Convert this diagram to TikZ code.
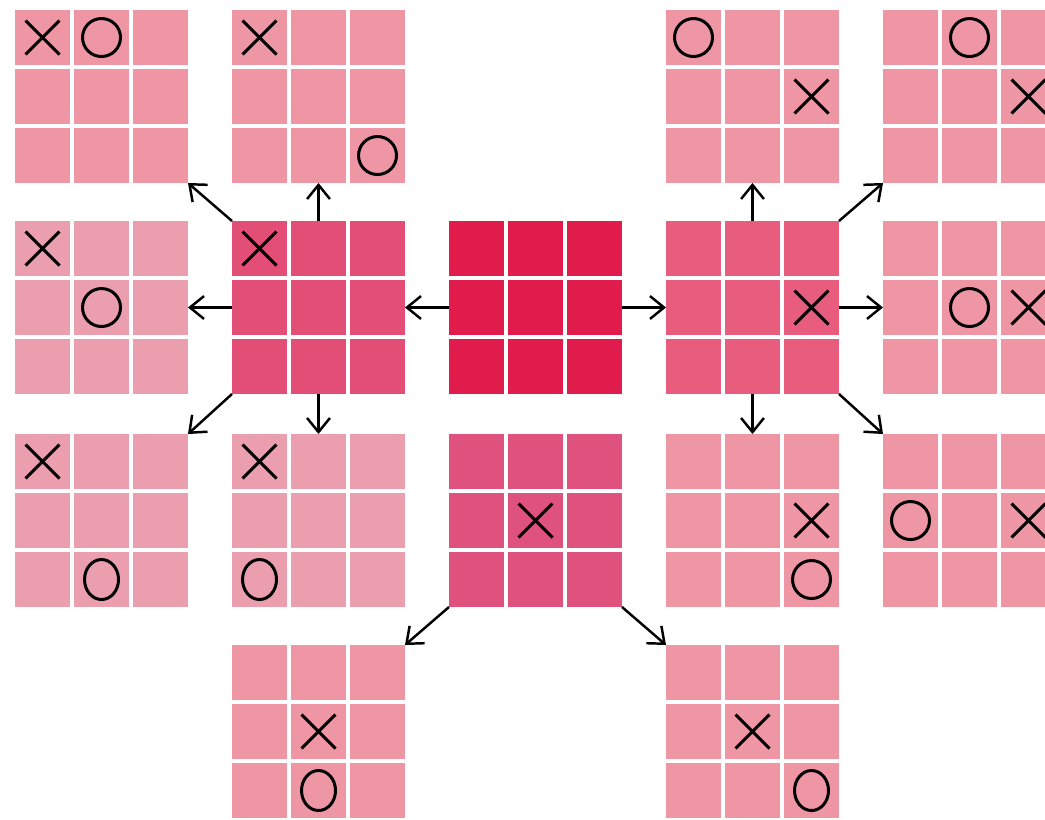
\documentclass[tikz,border=0pt]{standalone}
\usepackage{tikz}
\usetikzlibrary{arrows.meta, calc, shapes.misc, shapes.geometric}
\definecolor{tttRoot}{RGB}{224,28,76}
\definecolor{tttDarkL}{RGB}{226,78,118}
\definecolor{tttDarkR}{RGB}{232,92,126}
\definecolor{tttDarkC}{RGB}{224,82,126}
\definecolor{tttLight}{RGB}{238,150,164}
\definecolor{tttLightB}{RGB}{234,158,174}

\begin{document}
\begin{tikzpicture}[x=0.02cm,y=-0.02cm,
  board/.style={rectangle,minimum size=3.46cm,inner sep=0pt,outer sep=0pt},
  gap/.style={draw=white,line width=0.08cm},
  xmark/.style={cross out,draw=black,line width=1.7pt,minimum size=6.2mm,
                inner sep=0pt},
  omark/.style={circle,draw=black,line width=1.7pt,minimum size=7.6mm,
                inner sep=0pt},
  otall/.style={ellipse,draw=black,line width=1.7pt,minimum width=6.8mm,
                minimum height=8mm,inner sep=0pt},
  arr/.style={-{Straight Barb[length=8pt,width=13pt]},line width=1.4pt,
              draw=black}]

\path[use as bounding box,fill=white] (0,0) rectangle (1045,819);
\clip (0,0) rectangle (1045,819);

% Boards (rows of the game tree)
\foreach \bd/\x/\y/\clr in {%
  b11/101.5/96.5/tttLight, b12/318.5/96.5/tttLight,
  b14/752.5/96.5/tttLight, b15/969.5/96.5/tttLight,
  b21/101.5/307.5/tttLightB, b22/318.5/307.5/tttDarkL,
  b23/535.5/307.5/tttRoot, b24/752.5/307.5/tttDarkR,
  b25/969.5/307.5/tttLight,
  b31/101.5/520.5/tttLightB, b32/318.5/520.5/tttLightB,
  b33/535.5/520.5/tttDarkC, b34/752.5/520.5/tttLight,
  b35/969.5/520.5/tttLight,
  b42/318.5/731.5/tttLight, b44/752.5/731.5/tttLight}
   \node[board,fill=\clr] (\bd) at (\x,\y) {};

% White gaps between the cells
\foreach \bd in {b11,b12,b14,b15,b21,b22,b23,b24,b25,b31,b32,b33,b34,b35,b42,b44}
  \foreach \d in {57,116} {
   \draw[gap] ($(\bd.north west)+(\d,0)$) -- ($(\bd.south west)+(\d,0)$);
   \draw[gap] ($(\bd.north west)+(0,\d)$) -- ($(\bd.north east)+(0,\d)$);
  }

% Moves
\foreach \bd/\row/\col/\mk in {%
  b11/0/0/xmark, b11/0/1/omark, b12/0/0/xmark, b12/2/2/omark,
  b14/0/0/omark, b14/1/2/xmark, b15/0/1/omark, b15/1/2/xmark,
  b21/0/0/xmark, b21/1/1/omark, b22/0/0/xmark, b24/1/2/xmark,
  b25/1/1/omark, b25/1/2/xmark,
  b31/0/0/xmark, b31/2/1/otall, b32/0/0/xmark, b32/2/0/otall,
  b33/1/1/xmark, b34/1/2/xmark, b34/2/2/omark,
  b35/1/0/omark, b35/1/2/xmark,
  b42/1/1/xmark, b42/2/1/otall, b44/1/1/xmark, b44/2/2/otall}
   \node[\mk] (\bd-\row\col) at ($(\bd.north west)+(27.5+59*\col,27.5+59*\row)$) {};

% Arrows
\draw[arr] (b23.west) -- (b22.east);
\draw[arr] (b23.east) -- (b24.west);
\draw[arr] (b22.north west) -- (b11.south east);
\draw[arr] (b22.north) -- (b12.south);
\draw[arr] (b22.west) -- (b21.east);
\draw[arr] (b22.south west) -- (b31.north east);
\draw[arr] (b22.south) -- (b32.north);
\draw[arr] (b24.north) -- (b14.south);
\draw[arr] (b24.north east) -- (b15.south west);
\draw[arr] (b24.east) -- (b25.west);
\draw[arr] (b24.south) -- (b34.north);
\draw[arr] (b24.south east) -- (b35.north west);
\draw[arr] (b33.south west) -- (b42.north east);
\draw[arr] (b33.south east) -- (b44.north west);
\end{tikzpicture}
\end{document}
